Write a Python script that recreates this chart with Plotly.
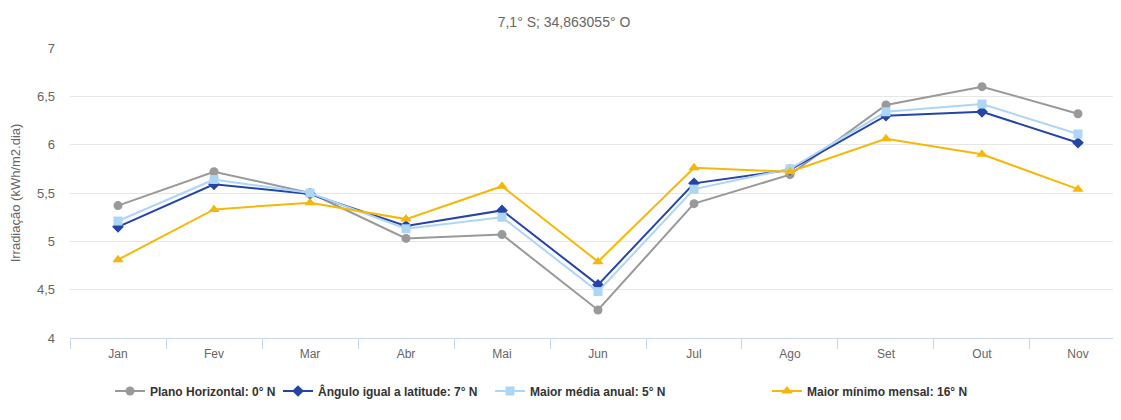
import plotly.graph_objects as go

months = ["Jan", "Fev", "Mar", "Abr", "Mai", "Jun", "Jul", "Ago", "Set", "Out", "Nov"]
plano_horizontal = [5.37, 5.72, 5.50, 5.03, 5.07, 4.29, 5.39, 5.69, 6.41, 6.60, 6.32]
angulo_latitude = [5.15, 5.59, 5.49, 5.16, 5.32, 4.55, 5.60, 5.74, 6.30, 6.34, 6.02]
maior_media = [5.21, 5.64, 5.50, 5.13, 5.25, 4.48, 5.54, 5.75, 6.34, 6.42, 6.11]
maior_minimo = [4.81, 5.33, 5.40, 5.23, 5.57, 4.79, 5.76, 5.72, 6.06, 5.90, 5.54]

series = [
    ("Plano Horizontal: 0° N", plano_horizontal, "#999999", "circle", 9),
    ("Ângulo igual a latitude: 7° N", angulo_latitude, "#2444a6", "diamond", 9),
    ("Maior média anual: 5° N", maior_media, "#acd5f6", "square", 9),
    ("Maior mínimo mensal: 16° N", maior_minimo, "#f5b80a", "triangle-up", 10),
]
# page offset: the browser body has an 8px margin
OFF = 8
legend_left_screen = [110, 278, 490, 767]

FONT = "Liberation Sans"
PLOT_L, PLOT_T, PLOT_W, PLOT_H = 70 - OFF, 48 - OFF, 1051, 290
W, H = 1121, 420

fig = go.Figure()
layout_legends = {}
for i, (name, vals, color, sym, size) in enumerate(series):
    key = "legend" if i == 0 else f"legend{i + 1}"
    fig.add_trace(go.Scatter(
        x=months, y=vals, name=name, mode="lines+markers",
        line=dict(color=color, width=2),
        marker=dict(symbol=sym, size=size, color=color),
        legend=key,
    ))
    layout_legends[key] = dict(
        orientation="h", x=(legend_left_screen[i] - OFF - PLOT_L) / PLOT_W, xanchor="left",
        y=(PLOT_T + PLOT_H - (391 - OFF)) / PLOT_H, yanchor="middle", bgcolor="rgba(0,0,0,0)",
        font=dict(family=FONT, size=12, color="#333333", weight="bold"),
        itemwidth=30,
    )

fig.update_layout(
    width=W, height=H,
    margin=dict(l=PLOT_L, r=W - PLOT_L - PLOT_W, t=PLOT_T, b=H - PLOT_T - PLOT_H, autoexpand=False),
    paper_bgcolor="white", plot_bgcolor="white",
    font=dict(family=FONT, size=12, color="#666666"),
    title=dict(text="7,1° S; 34,863055° O", x=(564 - OFF) / W, xanchor="center",
               y=1 - (22 - OFF) / H, yanchor="middle",
               font=dict(family=FONT, size=14, color="#666666")),
    showlegend=True,
    separators=",.",
    **layout_legends,
)
fig.update_xaxes(
    type="category", range=[-0.5, 10.448], automargin=False,
    showgrid=False, showline=True, linecolor="#ccd6eb", linewidth=1,
    ticks="outside", tickson="boundaries", ticklen=10, tickcolor="#ccd6eb",
    ticklabelstandoff=5,
    tickfont=dict(family=FONT, size=12, color="#666666"),
)
fig.update_yaxes(
    range=[4, 7], dtick=0.5, showgrid=True, gridcolor="#e6e6e6", gridwidth=1,
    zeroline=False, showline=False, ticks="", automargin=False,
    tickformat=",.1~f", ticklabelstandoff=14,
    title=dict(text="Irradiação (kWh/m2.dia)", font=dict(family=FONT, size=13, color="#666666"), standoff=20),
    tickfont=dict(family=FONT, size=13, color="#666666"),
)
fig.write_html("out.html")
